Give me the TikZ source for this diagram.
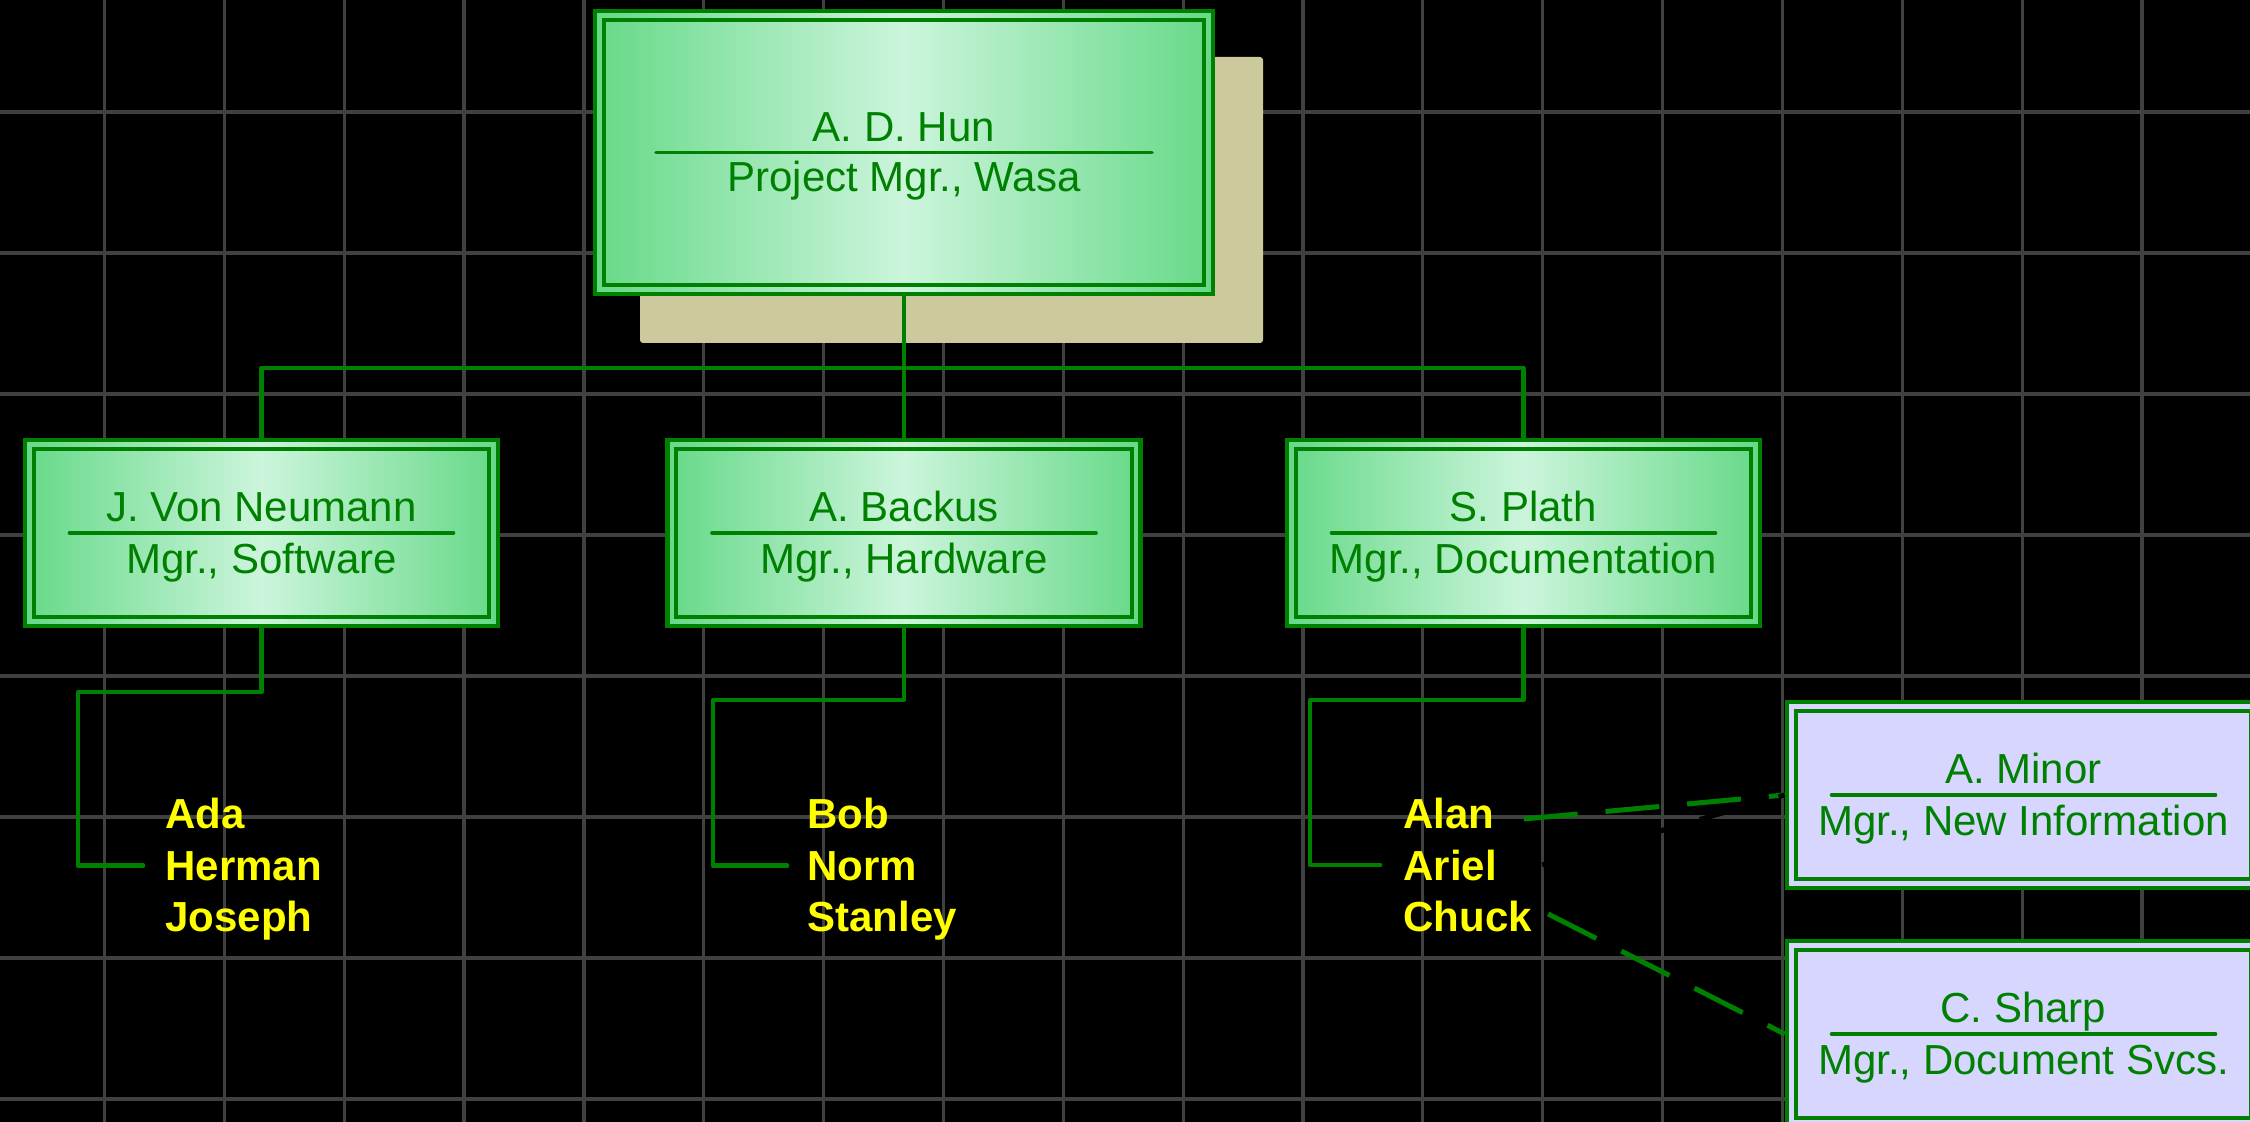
\documentclass[tikz,border=0pt]{standalone}
\usepackage{fontspec}
\setmainfont{Liberation Sans}
\usetikzlibrary{calc}
\definecolor{dgreen}{HTML}{008000}
\definecolor{gedge}{HTML}{66D988}
\definecolor{gmid}{HTML}{CCF5DC}
\definecolor{lav}{HTML}{D6D6FF}
\definecolor{shadowc}{HTML}{CCCA9C}
\definecolor{gridc}{HTML}{404040}
\definecolor{nameyellow}{HTML}{FFFF00}
\newcommand{\tstrut}{\rule{0pt}{18.8pt}}
\begin{document}
\begin{tikzpicture}[x=0.5pt,y=-0.5pt,
  gridline/.style={draw=gridc,line width=1.6pt},
  conn/.style={draw=dgreen,line width=2.4pt,line cap=round,line join=round},
  dashconn/.style={draw=dgreen,line width=2.5pt,dash pattern=on 27pt off 14pt},
  blackdash/.style={dashconn,draw=black},
  boxbase/.style={rectangle,draw=dgreen,line width=2.3pt,text=dgreen,align=center,
     minimum width=236.5pt,minimum height=93pt,inner sep=0pt,
     font=\fontsize{21pt}{26pt}\selectfont},
  greenbox/.style={boxbase,left color=gedge,right color=gedge,middle color=gmid},
  lavbox/.style={boxbase,fill=lav},
  innerframe/.style={draw=dgreen,line width=2pt},
  divider/.style={draw=dgreen,line width=1.8pt,line cap=round},
  staffname/.style={text=nameyellow,font=\fontsize{21pt}{26pt}\selectfont\bfseries,anchor=base west,inner sep=0pt},
]
% background and grid
\fill[black] (0,0) rectangle (2250,1122);
\useasboundingbox (0,0) rectangle (2250,1122);
\foreach \k in {0,...,17} \draw[gridline] ({104.5+119.85*\k},0) -- ({104.5+119.85*\k},1122);
\foreach \k in {0,...,7} \draw[gridline] (0,{112+141*\k}) -- (2250,{112+141*\k});

% shadow of the top box
\fill[shadowc,rounded corners=1.5pt] (640,57) rectangle (1263,343);

% staff names
\node[staffname] (ada) at (165,828) {Ada};
\node[staffname] (herman) at (165,880) {Herman};
\node[staffname] (joseph) at (165,931) {Joseph};
\node[staffname] (bob) at (807,828) {Bob};
\node[staffname] (norm) at (807,880) {Norm};
\node[staffname] (stanley) at (807,931) {Stanley};
\node[staffname] (alan) at (1403,828) {Alan};
\node[staffname] (ariel) at (1403,880) {Ariel};
\node[staffname] (chuck) at (1403,931) {Chuck};

% connectors
\draw[conn] (904,296) -- (904,438);
\draw[conn] (261.5,438) -- (261.5,368) -| (1523.5,438);
\draw[conn] (261.5,628) -- ++(0,64) -| ($(herman.west)+(-87,0)$) -- ($(herman.west)+(-22,0)$);
\draw[conn] (904,628) -- ++(0,72) -| ($(norm.west)+(-94,0)$) -- ($(norm.west)+(-20,0)$);
\draw[conn] (1523.5,628) -- ++(0,72) -| ($(ariel.west)+(-93,0)$) -- ($(ariel.west)+(-23,0)$);

% boxes
\node[greenbox,minimum width=309pt,minimum height=141.5pt,font=\fontsize{21pt}{25pt}\selectfont] (hun) at (904,152.5) {\tstrut A. D. Hun\\Project Mgr., Wasa};
\node[greenbox] (vn) at (261.5,533) {\tstrut J. Von Neumann\\Mgr., Software};
\node[greenbox] (backus) at (904,533) {\tstrut A. Backus\\Mgr., Hardware};
\node[greenbox] (plath) at (1523.5,533) {\tstrut S. Plath\\Mgr., Documentation};
\node[lavbox] (minor) at (2023.5,795) {\tstrut A. Minor\\Mgr., New Information};
\node[lavbox] (sharp) at (2023.5,1034) {\tstrut C. Sharp\\Mgr., Document Svcs.};

\foreach \n in {hun,vn,backus,plath,minor,sharp}
  \draw[innerframe] ($(\n.north west)+(11,11)$) rectangle ($(\n.south east)+(-11,-11)$);
\foreach \n/\h in {hun/248,vn/192,backus/192,plath/192,minor/192,sharp/192}
  \draw[divider] ($(\n.center)+(-\h,0)$) -- ($(\n.center)+(\h,0)$);

% dashed links
\draw[dashconn] ($(alan.east)+(29,6)$) -- (minor.west);
\draw[dashconn] ($(chuck.east)+(16,-2)$) -- (sharp.west);
\draw[blackdash] ($(ariel.east)+(45,0)$) -- (minor.west);
\end{tikzpicture}
\end{document}
